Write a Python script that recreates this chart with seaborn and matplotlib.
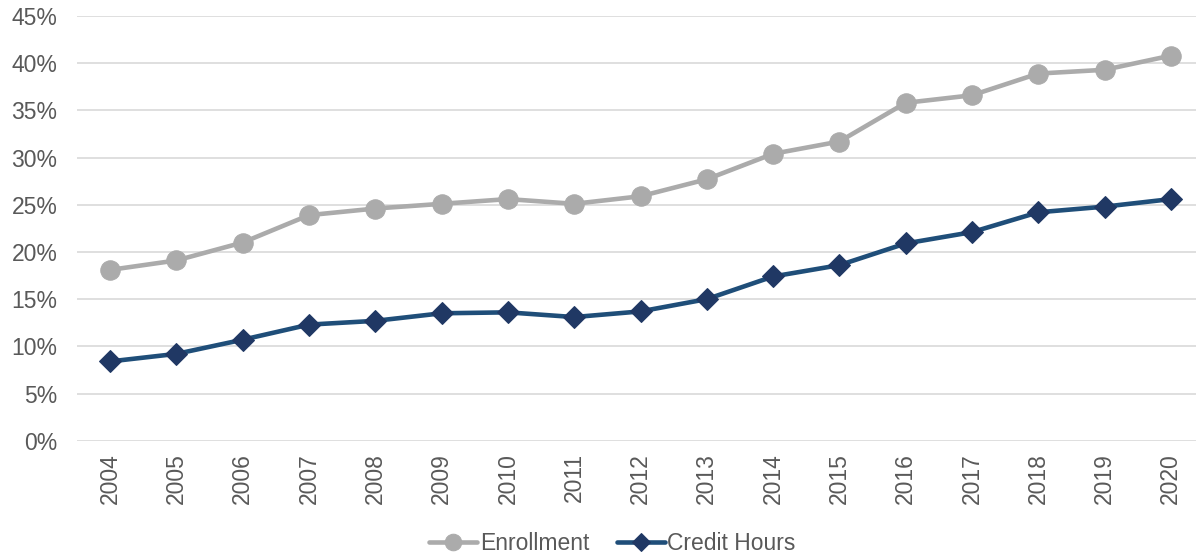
import pandas as pd
import numpy as np
import seaborn as sns
import matplotlib.pyplot as plt
from matplotlib.ticker import PercentFormatter

years = list(range(2004, 2021))
enrollment = [18.1, 19.1, 21.0, 23.9, 24.6, 25.1, 25.6, 25.1, 25.9,
              27.7, 30.4, 31.7, 35.8, 36.6, 38.9, 39.3, 40.8]
credit_hours = [8.4, 9.2, 10.7, 12.3, 12.7, 13.5, 13.6, 13.1, 13.7,
                15.0, 17.4, 18.6, 20.9, 22.1, 24.2, 24.8, 25.6]
y_ticks = [0, 5, 10, 15, 20, 25, 30, 35, 40, 45]

df = pd.DataFrame({"Year": years, "Enrollment": enrollment, "Credit Hours": credit_hours})

# Set Seaborn style, then fonts
sns.set_style("white")
plt.rcParams["font.family"] = ["Liberation Sans", "DejaVu Sans"]
text_color = "#595959"
fs = 16.5

fig = plt.figure(figsize=(11.96, 5.53), dpi=100)
ax = fig.add_axes([77 / 1196, 112.3 / 553, 1127 / 1196, 424.7 / 553])

sns.lineplot(data=df, x="Year", y="Enrollment", ax=ax, color="#ABABAB",
             linewidth=3.3, marker="o", markersize=14,
             markerfacecolor="#ABABAB", markeredgecolor="#ABABAB",
             label="Enrollment", zorder=3)
sns.lineplot(data=df, x="Year", y="Credit Hours", ax=ax, color="#1F4E79",
             linewidth=3.3, marker="D", markersize=11,
             markerfacecolor="#203864", markeredgecolor="#203864",
             label="Credit Hours", zorder=3)

ax.set_xlim(years[0] - 0.5, years[-1] + 0.5)
ax.set_ylim(0, 45)
ax.set_xticks(years)
ax.set_xticklabels([str(y) for y in years], rotation=90)
ax.set_yticks(y_ticks)
ax.yaxis.set_major_formatter(PercentFormatter(decimals=0))
ax.grid(axis="y", color="#D9D9D9", linewidth=1.2, zorder=0)
ax.set_axisbelow(True)
for s in ax.spines.values():
    s.set_visible(False)
ax.tick_params(axis="x", length=0, pad=9, labelsize=fs, labelcolor=text_color)
ax.tick_params(axis="y", length=0, pad=14, labelsize=fs, labelcolor=text_color)
ax.set_xlabel("")
ax.set_ylabel("")

ax.legend_.remove()
handles, labels = ax.get_legend_handles_labels()
fig.legend(handles, labels, loc="center", bbox_to_anchor=(0.512, 0.018),
           ncol=2, frameon=False, fontsize=fs, labelcolor=text_color,
           handlelength=2.1, handletextpad=0.12, columnspacing=1.2,
           markerscale=0.85)

fig.savefig("out.png", dpi=100)
